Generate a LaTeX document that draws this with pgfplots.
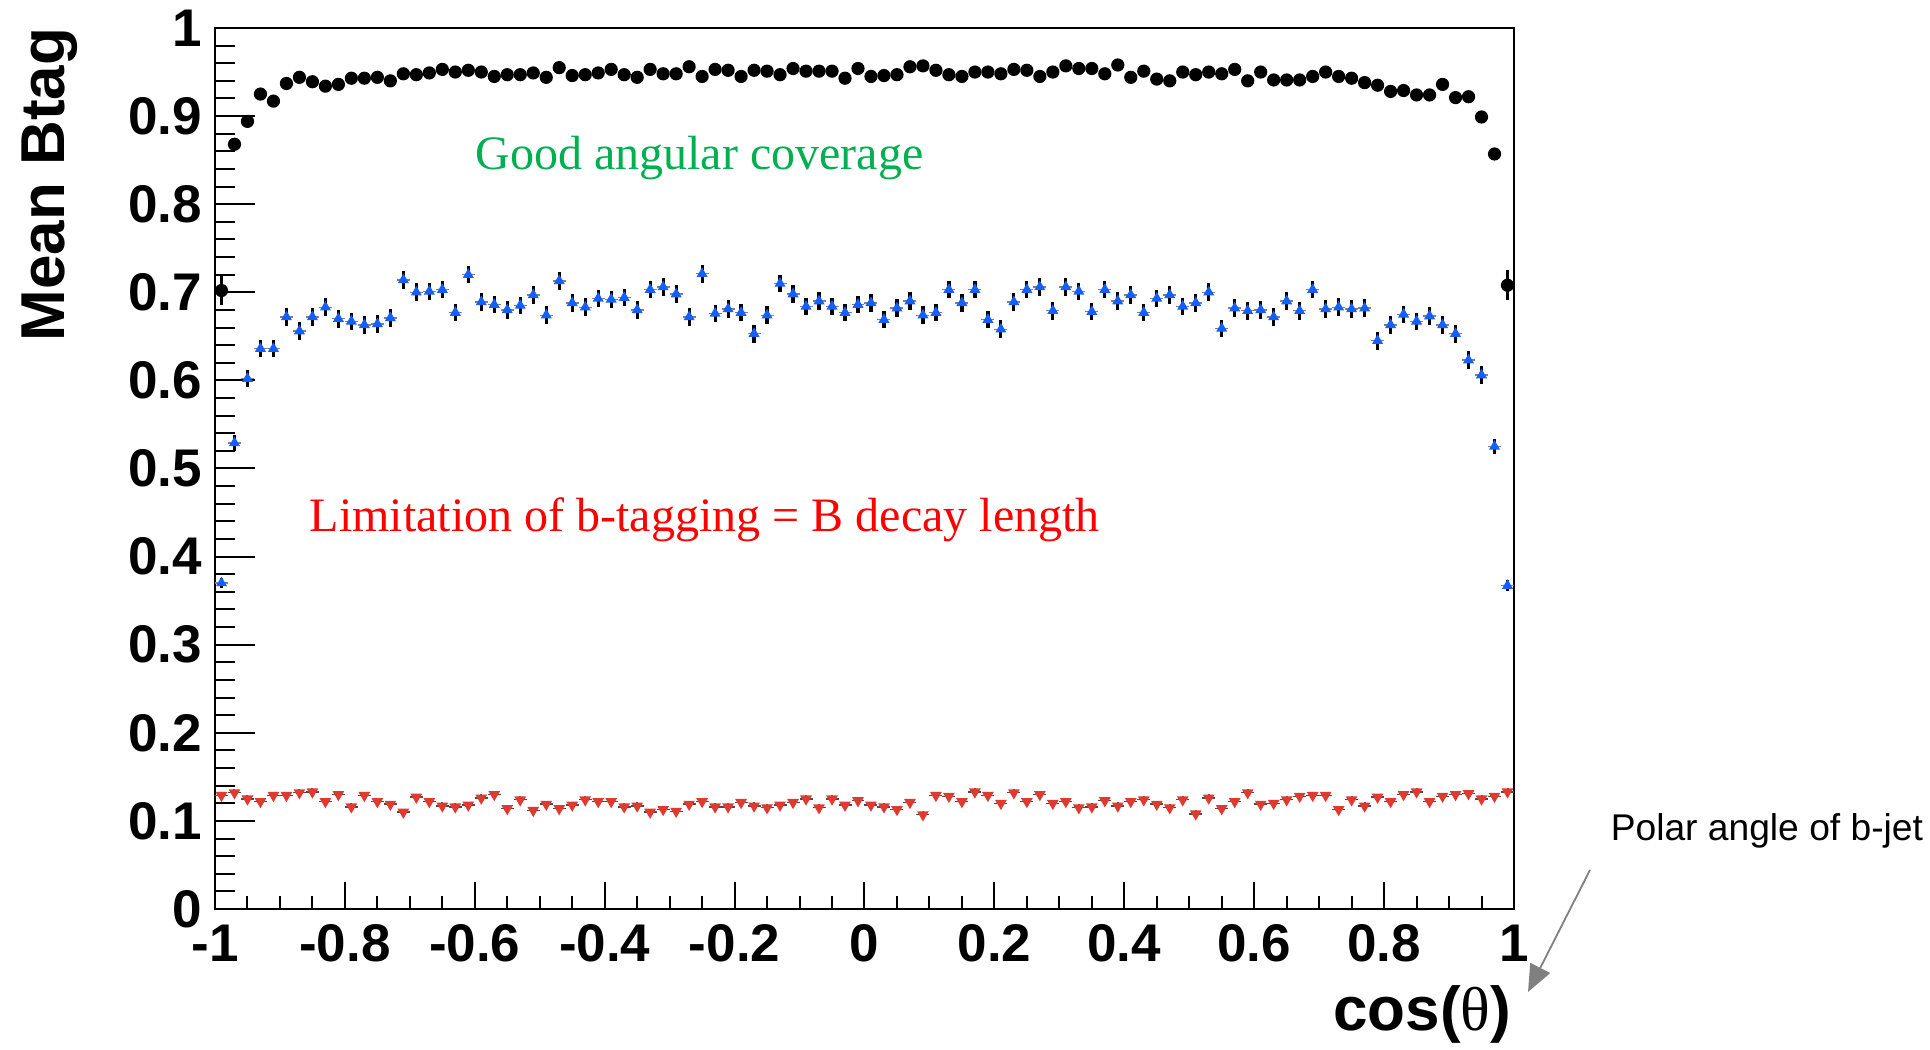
\documentclass[border=0pt]{standalone}
\usepackage{pgfplots}
\pgfplotsset{compat=1.18}
\usepackage{pgfplotstable}
\usepackage{fontspec}
\setmainfont{Liberation Sans}
\newfontfamily\serifmain{Liberation Serif}
\usetikzlibrary{arrows.meta}

\definecolor{goodgreen}{RGB}{0,176,80}
\definecolor{markblue}{RGB}{20,95,255}
\definecolor{markred}{RGB}{222,58,48}
\definecolor{arrowgray}{RGB}{128,128,128}

% mean b-tag per cos(theta) bin (bin width 0.02): x, mean, error
\pgfplotstableread{
x y ey
-0.99 0.702 0.016
-0.97 0.868 0.005
-0.95 0.894 0.004
-0.93 0.925 0.003
-0.91 0.917 0.003
-0.89 0.937 0.003
-0.87 0.944 0.003
-0.85 0.939 0.003
-0.83 0.934 0.003
-0.81 0.936 0.003
-0.79 0.943 0.003
-0.77 0.943 0.003
-0.75 0.944 0.003
-0.73 0.940 0.003
-0.71 0.948 0.003
-0.69 0.947 0.003
-0.67 0.949 0.003
-0.65 0.953 0.003
-0.63 0.950 0.003
-0.61 0.952 0.003
-0.59 0.950 0.003
-0.57 0.945 0.003
-0.55 0.947 0.003
-0.53 0.947 0.003
-0.51 0.949 0.003
-0.49 0.944 0.003
-0.47 0.955 0.003
-0.45 0.946 0.003
-0.43 0.947 0.003
-0.41 0.949 0.003
-0.39 0.953 0.003
-0.37 0.947 0.003
-0.35 0.944 0.003
-0.33 0.953 0.003
-0.31 0.948 0.003
-0.29 0.948 0.003
-0.27 0.956 0.003
-0.25 0.945 0.003
-0.23 0.953 0.003
-0.21 0.952 0.003
-0.19 0.945 0.003
-0.17 0.952 0.003
-0.15 0.951 0.003
-0.13 0.947 0.003
-0.11 0.954 0.003
-0.09 0.951 0.003
-0.07 0.951 0.003
-0.05 0.951 0.003
-0.03 0.943 0.003
-0.01 0.954 0.003
0.01 0.945 0.003
0.03 0.946 0.003
0.05 0.947 0.003
0.07 0.956 0.003
0.09 0.957 0.003
0.11 0.952 0.003
0.13 0.947 0.003
0.15 0.945 0.003
0.17 0.950 0.003
0.19 0.950 0.003
0.21 0.948 0.003
0.23 0.953 0.003
0.25 0.952 0.003
0.27 0.945 0.003
0.29 0.950 0.003
0.31 0.957 0.003
0.33 0.954 0.003
0.35 0.954 0.003
0.37 0.948 0.003
0.39 0.958 0.003
0.41 0.944 0.003
0.43 0.951 0.003
0.45 0.942 0.003
0.47 0.940 0.003
0.49 0.950 0.003
0.51 0.947 0.003
0.53 0.950 0.003
0.55 0.948 0.003
0.57 0.953 0.003
0.59 0.940 0.003
0.61 0.950 0.003
0.63 0.941 0.003
0.65 0.941 0.003
0.67 0.941 0.003
0.69 0.945 0.003
0.71 0.950 0.003
0.73 0.945 0.003
0.75 0.943 0.003
0.77 0.938 0.003
0.79 0.935 0.003
0.81 0.928 0.003
0.83 0.929 0.003
0.85 0.924 0.003
0.87 0.924 0.003
0.89 0.936 0.003
0.91 0.921 0.003
0.93 0.922 0.003
0.95 0.899 0.004
0.97 0.857 0.005
0.99 0.708 0.017
}\tabjets

\pgfplotstableread{
x y ey
-0.99 0.370 0.006
-0.97 0.529 0.009
-0.95 0.602 0.010
-0.93 0.636 0.010
-0.91 0.636 0.010
-0.89 0.672 0.010
-0.87 0.656 0.010
-0.85 0.672 0.010
-0.83 0.683 0.010
-0.81 0.670 0.010
-0.79 0.667 0.010
-0.77 0.663 0.010
-0.75 0.664 0.010
-0.73 0.671 0.010
-0.71 0.714 0.010
-0.69 0.700 0.010
-0.67 0.701 0.010
-0.65 0.703 0.010
-0.63 0.677 0.010
-0.61 0.720 0.010
-0.59 0.689 0.010
-0.57 0.686 0.010
-0.55 0.680 0.010
-0.53 0.685 0.010
-0.51 0.697 0.010
-0.49 0.674 0.010
-0.47 0.713 0.010
-0.45 0.688 0.010
-0.43 0.683 0.010
-0.41 0.693 0.010
-0.39 0.692 0.010
-0.37 0.694 0.010
-0.35 0.680 0.010
-0.33 0.703 0.010
-0.31 0.706 0.010
-0.29 0.698 0.010
-0.27 0.672 0.010
-0.25 0.721 0.010
-0.23 0.676 0.010
-0.21 0.681 0.010
-0.19 0.677 0.010
-0.17 0.653 0.010
-0.15 0.674 0.010
-0.13 0.710 0.010
-0.11 0.698 0.010
-0.09 0.684 0.010
-0.07 0.690 0.010
-0.05 0.684 0.010
-0.03 0.677 0.010
-0.01 0.686 0.010
0.01 0.688 0.010
0.03 0.669 0.010
0.05 0.682 0.010
0.07 0.690 0.010
0.09 0.674 0.010
0.11 0.677 0.010
0.13 0.703 0.010
0.15 0.688 0.010
0.17 0.703 0.010
0.19 0.669 0.010
0.21 0.658 0.010
0.23 0.689 0.010
0.25 0.703 0.010
0.27 0.706 0.010
0.29 0.679 0.010
0.31 0.706 0.010
0.33 0.701 0.010
0.35 0.678 0.010
0.37 0.703 0.010
0.39 0.690 0.010
0.41 0.697 0.010
0.43 0.677 0.010
0.45 0.693 0.010
0.47 0.697 0.010
0.49 0.684 0.010
0.51 0.688 0.010
0.53 0.700 0.010
0.55 0.659 0.010
0.57 0.682 0.010
0.59 0.679 0.010
0.61 0.680 0.010
0.63 0.672 0.010
0.65 0.690 0.010
0.67 0.679 0.010
0.69 0.703 0.010
0.71 0.681 0.010
0.73 0.683 0.010
0.75 0.681 0.010
0.77 0.682 0.010
0.79 0.645 0.010
0.81 0.663 0.010
0.83 0.675 0.010
0.85 0.667 0.010
0.87 0.673 0.010
0.89 0.663 0.010
0.91 0.653 0.010
0.93 0.623 0.010
0.95 0.606 0.010
0.97 0.525 0.009
0.99 0.367 0.006
}\tabtagged

\pgfplotstableread{
x y ey
-0.99 0.129 0.004
-0.97 0.132 0.004
-0.95 0.125 0.004
-0.93 0.122 0.004
-0.91 0.129 0.004
-0.89 0.129 0.004
-0.87 0.132 0.004
-0.85 0.133 0.004
-0.83 0.122 0.004
-0.81 0.130 0.004
-0.79 0.116 0.004
-0.77 0.129 0.004
-0.75 0.122 0.004
-0.73 0.119 0.004
-0.71 0.110 0.004
-0.69 0.127 0.004
-0.67 0.122 0.004
-0.65 0.117 0.004
-0.63 0.116 0.004
-0.61 0.118 0.004
-0.59 0.126 0.004
-0.57 0.130 0.004
-0.55 0.114 0.004
-0.53 0.124 0.004
-0.51 0.112 0.004
-0.49 0.119 0.004
-0.47 0.114 0.004
-0.45 0.118 0.004
-0.43 0.124 0.004
-0.41 0.122 0.004
-0.39 0.122 0.004
-0.37 0.116 0.004
-0.35 0.117 0.004
-0.33 0.110 0.004
-0.31 0.113 0.004
-0.29 0.111 0.004
-0.27 0.119 0.004
-0.25 0.122 0.004
-0.23 0.116 0.004
-0.21 0.116 0.004
-0.19 0.121 0.004
-0.17 0.117 0.004
-0.15 0.115 0.004
-0.13 0.118 0.004
-0.11 0.121 0.004
-0.09 0.125 0.004
-0.07 0.115 0.004
-0.05 0.125 0.004
-0.03 0.118 0.004
-0.01 0.123 0.004
0.01 0.118 0.004
0.03 0.116 0.004
0.05 0.113 0.004
0.07 0.121 0.004
0.09 0.107 0.004
0.11 0.129 0.004
0.13 0.128 0.004
0.15 0.122 0.004
0.17 0.133 0.004
0.19 0.129 0.004
0.21 0.120 0.004
0.23 0.132 0.004
0.25 0.122 0.004
0.27 0.130 0.004
0.29 0.120 0.004
0.31 0.122 0.004
0.33 0.115 0.004
0.35 0.116 0.004
0.37 0.123 0.004
0.39 0.117 0.004
0.41 0.122 0.004
0.43 0.124 0.004
0.45 0.119 0.004
0.47 0.115 0.004
0.49 0.124 0.004
0.51 0.108 0.004
0.53 0.126 0.004
0.55 0.114 0.004
0.57 0.122 0.004
0.59 0.132 0.004
0.61 0.119 0.004
0.63 0.120 0.004
0.65 0.124 0.004
0.67 0.128 0.004
0.69 0.129 0.004
0.71 0.129 0.004
0.73 0.113 0.004
0.75 0.124 0.004
0.77 0.117 0.004
0.79 0.127 0.004
0.81 0.122 0.004
0.83 0.130 0.004
0.85 0.133 0.004
0.87 0.122 0.004
0.89 0.128 0.004
0.91 0.130 0.004
0.93 0.131 0.004
0.95 0.125 0.004
0.97 0.128 0.004
0.99 0.133 0.004
}\tablight

\begin{document}
\begin{tikzpicture}
% page frame around the axis box (axis box lower-left corner at the origin)
\useasboundingbox (-53.75pt,-35.25pt) rectangle (428.75pt,227.25pt);
\begin{axis}[
  at={(0pt,0pt)}, anchor=south west,
  scale only axis, width=324.75pt, height=220.25pt,
  xmin=-1, xmax=1, ymin=0, ymax=1,
  clip=false,
  axis line style={line width=0.65pt, black},
  tick align=inside, tick pos=left,
  tick style={line width=0.5pt, black},
  xtick={-1,-0.8,-0.6,-0.4,-0.2,0,0.2,0.4,0.6,0.8,1},
  xticklabels={-1,-0.8,-0.6,-0.4,-0.2,0,0.2,0.4,0.6,0.8,1},
  ytick={0,0.1,0.2,0.3,0.4,0.5,0.6,0.7,0.8,0.9,1},
  yticklabels={0,0.1,0.2,0.3,0.4,0.5,0.6,0.7,0.8,0.9,1},
  minor x tick num=3, minor y tick num=4,
  xtick style={/pgfplots/major tick length=6.75pt, /pgfplots/minor tick length=3.25pt},
  ytick style={/pgfplots/major tick length=10pt, /pgfplots/minor tick length=5pt},
  ticklabel style={font=\bfseries\fontsize{13.25}{13.25}\selectfont},
  xticklabel style={anchor=north, inner sep=0pt, yshift=-3.75pt},
  yticklabel style={anchor=east, inner sep=0pt, xshift=-3pt},
  xlabel={cos({\serifmain\mdseries θ})},
  xlabel style={font=\bfseries\fontsize{15.5}{15.5}\selectfont,
    at={(axis description cs:0.9985,-0.0863)}, anchor=north east, inner sep=0pt},
  ylabel={Mean Btag},
  ylabel style={font=\bfseries\fontsize{15.5}{15.5}\selectfont,
    at={(axis description cs:-0.1493,1.0011)}, anchor=north east, inner sep=0pt},
]
% all jets
\addplot[only marks, mark=*, mark size=1.45pt, mark options={draw=black, fill=black},
  error bars/.cd, y dir=both, y explicit, error mark=none,
  error bar style={line width=0.9pt, black}]
  table[x=x, y=y, y error=ey] {\tabjets};

% b-tagged jets: bin-width bars, then mean with its error
\addplot[draw=none, mark=none, forget plot,
  error bars/.cd, x dir=both, x fixed=0.01, error mark=none,
  error bar style={line width=0.35pt, draw=gray}]
  table[x=x, y=y] {\tabtagged};
\addplot[only marks, mark=triangle*, mark size=1.2pt,
  mark options={draw=markblue, fill=markblue},
  error bars/.cd, y dir=both, y explicit, error mark=none,
  error bar style={line width=0.8pt, black}]
  table[x=x, y=y, y error=ey] {\tabtagged};

% light-quark jets
\addplot[draw=none, mark=none, forget plot,
  error bars/.cd, x dir=both, x fixed=0.01, error mark=none,
  error bar style={line width=0.35pt, draw=gray!60!black}]
  table[x=x, y=y] {\tablight};
\addplot[only marks, mark=triangle*, mark size=1.3pt,
  mark options={draw=markred, fill=markred, rotate=180},
  error bars/.cd, y dir=both, y explicit, error mark=none,
  error bar style={line width=0.5pt, gray!60!black}]
  table[x=x, y=y, y error=ey] {\tablight};

\node[anchor=base west, inner sep=0pt, text=goodgreen,
  font=\serifmain\fontsize{12}{12}\selectfont]
  at (axis cs:-0.6,0.839) {Good angular coverage};
\node[anchor=base west, inner sep=0pt, text=red,
  font=\serifmain\fontsize{12}{12}\selectfont]
  at (axis cs:-0.855,0.428) {Limitation of b-tagging = B decay length};

\node[anchor=base west, inner sep=0pt, font=\fontsize{9.3}{9.3}\selectfont]
  at (axis cs:1.1478,0.0783) {Polar angle of b-jet};
\draw[arrowgray, line width=0.45pt, -{Triangle[length=6.75pt, width=5.5pt]}]
  (axis cs:1.117,0.0443) -- (axis cs:1.0216,-0.0942);
\end{axis}
\end{tikzpicture}
\end{document}
